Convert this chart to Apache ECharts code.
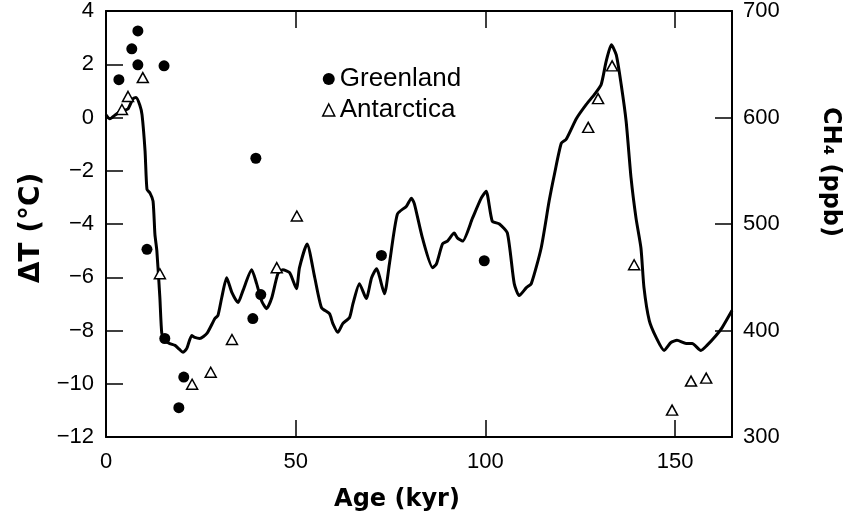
<!DOCTYPE html>
<html>
<head>
<meta charset="utf-8">
<script src="https://cdn.jsdelivr.net/npm/echarts@6/dist/echarts.min.js"></script>
<style>
  html, body { margin: 0; padding: 0; background: #fff; }
  #main { width: 845px; height: 530px; }
</style>
</head>
<body>
<div id="main"></div>
<script>
// curve (age in kyr, temperature change in °C)
var curveAge = [0, 1, 2.5, 3.7, 5, 5.8, 7.1, 7.9, 8.9, 9.5, 10.3, 10.8, 11.6, 12.4, 12.9, 13.4, 14.2, 14.7,
    15.5, 16.8, 18.2, 19.3, 20.3, 21.3, 22.6, 23.4, 24.7, 26.6, 28.7, 29.5, 30.5, 31.8, 33.2, 34.8, 36.1,
    38.4, 39.7, 41, 42.3, 43.7, 45.3, 46.6, 48.4, 50.2, 51, 53, 55, 56.8, 58.9, 59.8, 61.1, 62.4, 64.2,
    65.1, 66.8, 68.6, 70, 71.3, 73.4, 74.7, 76.8, 79.2, 80.5, 81.3, 83.4, 86.1, 87.1, 88.7, 90, 91.8,
    92.6, 94, 96.6, 98.9, 100.2, 101.8, 103.7, 105.8, 107.6, 108.9, 110.8, 112.1, 114.7, 116.8, 118.2,
    120, 121.3, 124, 126.6, 128.7, 130.5, 131.8, 133.2, 134.5, 135.8, 137.1, 138.4, 139.7, 141, 141.8,
    143.2, 145, 147.1, 148.9, 150.5, 152.9, 154.5, 156.8, 158.4, 160.8, 162.4, 165];
var curveTemp = [0.1, -0.05, 0.1, 0.22, 0.28, 0.32, 0.7, 0.75, 0.47, 0.1, -1.27, -2.7, -2.84, -3.14, -4.4, -5.0, -6.77, -8.1,
    -8.37, -8.49, -8.56, -8.7, -8.82, -8.67, -8.19, -8.26, -8.3, -8.11, -7.55, -7.44, -6.77, -6.02, -6.58, -6.95, -6.5,
    -5.72, -6.24, -6.88, -7.18, -6.77, -5.87, -5.72, -5.83, -6.43, -5.64, -4.75, -6.0, -7.14, -7.37, -7.74, -8.07, -7.74, -7.51,
    -6.99, -6.24, -6.8, -6.02, -5.68, -6.62, -5.5, -3.63, -3.33, -3.03, -3.25, -4.52, -5.64, -5.5, -4.75, -4.64, -4.34,
    -4.52, -4.64, -3.78, -3.03, -2.77, -3.89, -4.0, -4.34, -6.24, -6.69, -6.39, -6.24, -4.9, -3.14, -2.13,
    -0.97, -0.82, -0.04, 0.49, 0.86, 1.23, 2.09, 2.73, 2.35, 1.23, -0.15, -2.28, -3.78, -4.9, -6.39,
    -7.63, -8.26, -8.75, -8.45, -8.37, -8.49, -8.49, -8.75, -8.56, -8.19, -7.89, -7.25];

// Greenland points
var greenlandAge  = [3.4, 6.8, 8.4, 8.4, 15.3, 10.8, 39.5, 15.5, 20.5, 19.2, 38.7, 40.8, 72.6, 99.7];
var greenlandTemp = [1.42, 2.58, 3.25, 1.98, 1.94, -4.95, -1.53, -8.3, -9.75, -10.9, -7.55, -6.65, -5.18, -5.38];

// Antarctica points
var antarcticaAge  = [4.2, 5.8, 9.7, 14.2, 22.7, 27.6, 33.2, 45, 50.3, 127.1, 129.7, 133.4, 139.2, 149.2, 154.2, 158.2];
var antarcticaTemp = [0.3, 0.79, 1.5, -5.87, -10.02, -9.57, -8.34, -5.64, -3.7, -0.37, 0.71, 1.94, -5.53, -10.99, -9.9, -9.79];

function pairs(xs, ys) {
    return xs.map(function (x, i) { return [x, ys[i]]; });
}

var myChart = echarts.init(document.getElementById('main'));

var labelFont = { color: '#000', fontSize: 22, fontFamily: 'Liberation Sans' };
var frameLine = { show: true, onZero: false, lineStyle: { color: '#000', width: 2 } };
var innerTick = { show: true, inside: true, length: 17, lineStyle: { color: '#000', width: 1.5 } };

var option = {
    animation: false,
    backgroundColor: '#fff',
    grid: { left: 106, right: 113, top: 9, bottom: 93 },
    legend: {
        orient: 'vertical',
        left: 317,
        top: 61,
        itemGap: 5,
        itemWidth: 12,
        itemHeight: 12,
        textStyle: { color: '#000', fontSize: 26, fontFamily: 'Liberation Sans' },
        data: [
            { name: 'Greenland', icon: 'circle', itemStyle: { color: '#000' } },
            { name: 'Antarctica', icon: 'triangle', itemStyle: { color: '#fff', borderColor: '#000', borderWidth: 1.5 } }
        ]
    },
    xAxis: [
        {
            type: 'value', position: 'bottom', min: 0, max: 165, interval: 50,
            axisLine: frameLine, axisTick: innerTick, splitLine: { show: false },
            axisLabel: Object.assign({ margin: 14, formatter: function (v) { return v % 50 === 0 ? v : ''; } }, labelFont)
        },
        {
            type: 'value', position: 'top', min: 0, max: 165, interval: 50,
            axisLine: frameLine, axisTick: innerTick, splitLine: { show: false },
            axisLabel: { show: false }
        }
    ],
    yAxis: [
        {
            type: 'value', position: 'left', min: -12, max: 4, interval: 2,
            axisLine: frameLine, axisTick: innerTick, splitLine: { show: false },
            axisLabel: Object.assign({ margin: 12, formatter: function (v) { return String(v).replace('-', '\u2212'); } }, labelFont)
        },
        {
            type: 'value', position: 'right', min: 300, max: 700, interval: 100,
            axisLine: frameLine, axisTick: innerTick, splitLine: { show: false },
            axisLabel: Object.assign({ margin: 11 }, labelFont)
        }
    ],
    graphic: [
        {
            type: 'text', x: 32, y: 228, rotation: Math.PI / 2,
            style: { text: '\u0394T (\u00B0C)', fill: '#000', font: 'bold 28px "DejaVu Sans"', textAlign: 'center', textVerticalAlign: 'middle' }
        },
        {
            type: 'text', x: 830, y: 172, rotation: -Math.PI / 2,
            style: { text: 'CH\u2084 (ppb)', fill: '#000', font: 'bold 24px "DejaVu Sans"', textAlign: 'center', textVerticalAlign: 'middle' }
        },
        {
            type: 'text', x: 397, y: 500,
            style: { text: 'Age (kyr)', fill: '#000', font: 'bold 24px "DejaVu Sans"', textAlign: 'center', textVerticalAlign: 'middle' }
        }
    ],
    series: [
        {
            name: 'curve',
            type: 'line',
            data: pairs(curveAge, curveTemp),
            showSymbol: false,
            smooth: 0.2,
            lineStyle: { color: '#000', width: 3 },
            z: 2
        },
        {
            name: 'Greenland',
            type: 'scatter',
            data: pairs(greenlandAge, greenlandTemp),
            symbol: 'circle',
            symbolSize: 11,
            itemStyle: { color: '#000', opacity: 1 },
            z: 3
        },
        {
            name: 'Antarctica',
            type: 'scatter',
            data: pairs(antarcticaAge, antarcticaTemp),
            symbol: 'triangle',
            symbolSize: [11, 10],
            itemStyle: { color: '#fff', borderColor: '#000', borderWidth: 1.5, opacity: 1 },
            z: 4
        }
    ]
};

myChart.setOption(option);
</script>
</body>
</html>
